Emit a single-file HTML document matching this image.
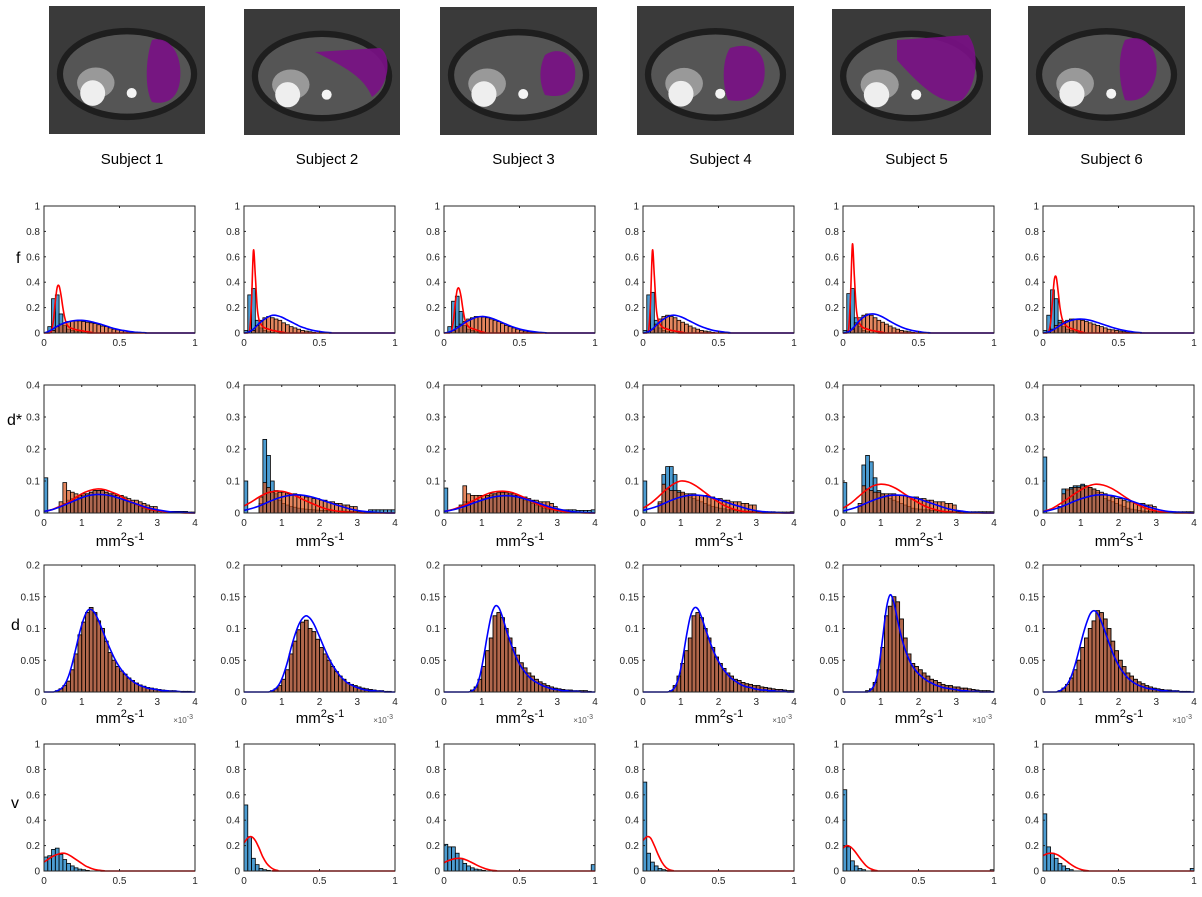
<!DOCTYPE html>
<html><head><meta charset="utf-8">
<style>
body{margin:0;background:#fff;}
svg{display:block;font-family:"Liberation Sans",sans-serif;}
</style></head>
<body>
<svg id="fig" width="1202" height="897" viewBox="0 0 1202 897"></svg>
<script>
// ---------- DATA ----------
const subjects = ["Subject 1","Subject 2","Subject 3","Subject 4","Subject 5","Subject 6"];
const rowLabels = ["f","d*","d","v"];
const fTicks = ["0","0.5","1"];
const fYTicks = ["0","0.2","0.4","0.6","0.8","1"];
const dsYTicks = ["0","0.1","0.2","0.3","0.4"];
const dYTicks = ["0","0.05","0.1","0.15","0.2"];
const dXTicks = ["0","1","2","3","4"];

// f row (bin 0.025); red curve step 0.0125, blue curve step 0.025
const fBlue = [
 [0,0.05,0.27,0.30,0.15,0.06,0.03,0.02,0.01,0.01,0.005],
 [0.02,0.30,0.35,0.10,0.04,0.02,0.01,0.005],
 [0,0.05,0.25,0.29,0.17,0.06,0.03,0.02,0.01],
 [0.02,0.30,0.32,0.10,0.04,0.02,0.01,0.005],
 [0.02,0.31,0.35,0.12,0.05,0.02,0.01],
 [0.02,0.14,0.34,0.27,0.10,0.05,0.03,0.02,0.01]];
const fOrange = [
 [0,0,0.02,0.05,0.07,0.08,0.09,0.095,0.095,0.095,0.09,0.085,0.08,0.075,0.065,0.055,0.05,0.04,0.03,0.025,0.02,0.015,0.01,0.008,0.005,0.003],
 [0,0,0.02,0.06,0.10,0.12,0.13,0.12,0.11,0.10,0.08,0.065,0.05,0.04,0.03,0.02,0.015,0.01,0.005],
 [0,0,0.02,0.05,0.07,0.09,0.11,0.12,0.13,0.13,0.125,0.12,0.11,0.10,0.09,0.075,0.06,0.05,0.04,0.03,0.022,0.015,0.01,0.007,0.005],
 [0,0,0.03,0.07,0.11,0.13,0.14,0.13,0.12,0.10,0.085,0.07,0.055,0.04,0.03,0.02,0.015,0.01,0.005],
 [0,0,0.03,0.08,0.12,0.14,0.15,0.14,0.12,0.10,0.085,0.07,0.055,0.04,0.03,0.02,0.015,0.01,0.005],
 [0,0,0.03,0.06,0.08,0.09,0.10,0.11,0.11,0.105,0.10,0.09,0.08,0.07,0.06,0.05,0.04,0.03,0.025,0.02,0.015,0.01,0.005]];
const fRed = [
 [0,0,0,0,0.02,0.10,0.25,0.36,0.37,0.30,0.20,0.12,0.07,0.05,0.04,0.035,0.03,0.025,0.022,0.02,0.018,0.015,0.012,0.01,0.008,0.005,0.003,0],
 [0,0,0,0.02,0.25,0.65,0.45,0.20,0.10,0.07,0.05,0.04,0.035,0.03,0.025,0.02,0.018,0.015,0.012,0.01,0.008,0.005,0.003,0],
 [0,0,0,0,0.02,0.10,0.24,0.34,0.35,0.29,0.19,0.11,0.07,0.05,0.04,0.035,0.03,0.025,0.02,0.015,0.01,0.006,0.003,0],
 [0,0,0,0.02,0.25,0.65,0.45,0.20,0.10,0.07,0.05,0.04,0.035,0.03,0.025,0.02,0.018,0.015,0.012,0.01,0.008,0.005,0.003,0],
 [0,0,0,0.03,0.30,0.70,0.45,0.20,0.10,0.07,0.05,0.04,0.035,0.03,0.025,0.02,0.018,0.015,0.012,0.01,0.008,0.005,0.003,0],
 [0,0,0,0.01,0.08,0.25,0.42,0.44,0.33,0.20,0.12,0.08,0.06,0.05,0.04,0.035,0.03,0.025,0.02,0.015,0.01,0.006,0.003,0]];
const fBlueCurve = [
 [0,0.01,0.025,0.045,0.06,0.075,0.085,0.092,0.097,0.1,0.1,0.097,0.092,0.085,0.078,0.07,0.06,0.05,0.04,0.032,0.025,0.02,0.015,0.01,0.007,0.005,0.003,0.002,0],
 [0,0.005,0.02,0.045,0.075,0.10,0.12,0.135,0.14,0.135,0.125,0.11,0.095,0.08,0.065,0.05,0.04,0.03,0.022,0.016,0.012,0.008,0.005,0.003,0],
 [0,0.005,0.015,0.03,0.05,0.07,0.09,0.105,0.118,0.127,0.13,0.128,0.122,0.112,0.1,0.088,0.075,0.062,0.05,0.04,0.031,0.024,0.018,0.013,0.009,0.006,0.004,0.002,0],
 [0,0.005,0.02,0.045,0.075,0.10,0.12,0.135,0.14,0.137,0.128,0.115,0.1,0.085,0.07,0.056,0.044,0.034,0.025,0.018,0.013,0.009,0.006,0.003,0],
 [0,0.005,0.02,0.05,0.085,0.115,0.135,0.148,0.15,0.145,0.133,0.118,0.1,0.083,0.067,0.053,0.04,0.03,0.022,0.016,0.011,0.007,0.004,0.002,0],
 [0,0.005,0.015,0.03,0.05,0.068,0.083,0.095,0.104,0.109,0.11,0.108,0.103,0.096,0.087,0.077,0.067,0.057,0.047,0.038,0.03,0.023,0.017,0.012,0.008,0.005,0.003,0]];

// d* row (bin 0.1 on 0..4); curves step 0.2
const dsBlue = [
 [0.11,0,0,0,0.02,0.03,0.04,0.045,0.05,0.05,0.055,0.06,0.065,0.07,0.07,0.07,0.065,0.06,0.055,0.05,0.045,0.04,0.035,0.03,0.025,0.02,0.015,0.01,0.008,0.006,0.005,0.005,0.005,0.005,0.005,0.005,0.005,0.005,0.003,0.003],
 [0.10,0,0,0,0.03,0.23,0.18,0.10,0.06,0.04,0.03,0.025,0.02,0.018,0.015,0.013,0.012,0.011,0.01,0.009,0.008,0.008,0.007,0.007,0.006,0.006,0.006,0.005,0.005,0.005,0.005,0.005,0.005,0.01,0.01,0.01,0.01,0.01,0.01,0.01],
 [0.078,0,0,0,0.01,0.035,0.035,0.035,0.035,0.04,0.045,0.05,0.055,0.06,0.065,0.065,0.065,0.06,0.055,0.05,0.045,0.04,0.035,0.03,0.025,0.02,0.015,0.012,0.01,0.01,0.01,0.01,0.01,0.01,0.01,0.008,0.008,0.008,0.008,0.01],
 [0.10,0,0,0,0.03,0.12,0.145,0.145,0.12,0.07,0.06,0.055,0.05,0.045,0.04,0.035,0.03,0.025,0.02,0.018,0.015,0.013,0.01,0.01,0.008,0.008,0.006,0.006,0.005,0.005,0.004,0.004,0.004,0.004,0.004,0.003,0.003,0.003,0.003,0.004],
 [0.095,0,0,0,0.02,0.15,0.18,0.16,0.11,0.07,0.06,0.05,0.045,0.04,0.035,0.03,0.025,0.02,0.015,0.013,0.012,0.01,0.01,0.008,0.008,0.006,0.006,0.005,0.005,0.004,0.004,0.004,0.004,0.004,0.004,0.004,0.004,0.004,0.004,0.004],
 [0.175,0,0,0,0.02,0.075,0.07,0.08,0.085,0.085,0.09,0.085,0.08,0.075,0.065,0.055,0.045,0.04,0.035,0.03,0.025,0.02,0.015,0.012,0.01,0.008,0.006,0.005,0.005,0.004,0.004,0.004,0.004,0.004,0.004,0.004,0.004,0.004,0.004,0.004]];
const dsOrange = [
 [0,0,0,0,0.035,0.095,0.07,0.065,0.06,0.055,0.06,0.06,0.065,0.07,0.07,0.07,0.065,0.06,0.06,0.055,0.055,0.05,0.045,0.04,0.04,0.035,0.03,0.025,0.02,0.02],
 [0,0,0,0,0.05,0.095,0.08,0.065,0.07,0.065,0.065,0.06,0.06,0.06,0.055,0.055,0.05,0.05,0.045,0.045,0.04,0.04,0.035,0.035,0.03,0.03,0.025,0.025,0.02,0.02],
 [0,0,0,0,0.025,0.085,0.06,0.055,0.055,0.055,0.055,0.055,0.06,0.06,0.065,0.065,0.065,0.06,0.06,0.055,0.05,0.05,0.045,0.04,0.04,0.035,0.035,0.035,0.03,0.02],
 [0,0,0,0,0.035,0.09,0.075,0.07,0.07,0.065,0.065,0.06,0.06,0.06,0.055,0.055,0.055,0.05,0.05,0.045,0.045,0.04,0.04,0.035,0.035,0.035,0.03,0.03,0.025,0.025],
 [0,0,0,0,0.03,0.085,0.075,0.07,0.065,0.065,0.06,0.06,0.06,0.06,0.055,0.055,0.055,0.05,0.05,0.05,0.045,0.045,0.04,0.04,0.035,0.035,0.035,0.03,0.03,0.025],
 [0,0,0,0,0.02,0.06,0.075,0.075,0.08,0.08,0.085,0.085,0.08,0.075,0.07,0.065,0.06,0.055,0.05,0.045,0.045,0.04,0.035,0.035,0.03,0.03,0.03,0.025,0.025,0.02]];
const dsRed = [
 [0.005,0.01,0.02,0.03,0.045,0.06,0.07,0.075,0.073,0.065,0.055,0.04,0.03,0.02,0.012,0.007,0.004,0.002,0.001,0,0],
 [0.022,0.035,0.05,0.062,0.068,0.068,0.062,0.052,0.04,0.03,0.02,0.012,0.007,0.004,0.002,0.001,0,0,0,0,0],
 [0.005,0.01,0.018,0.028,0.04,0.052,0.062,0.067,0.068,0.064,0.055,0.044,0.032,0.022,0.014,0.008,0.004,0.002,0.001,0,0],
 [0.015,0.03,0.05,0.072,0.09,0.1,0.097,0.085,0.068,0.05,0.034,0.021,0.012,0.006,0.003,0.001,0,0,0,0,0],
 [0.015,0.03,0.05,0.07,0.085,0.09,0.087,0.077,0.062,0.046,0.032,0.02,0.012,0.006,0.003,0.001,0,0,0,0,0],
 [0.005,0.012,0.025,0.04,0.057,0.072,0.084,0.09,0.087,0.078,0.064,0.048,0.033,0.021,0.012,0.006,0.003,0.001,0,0,0]];
const dsBlueCurve = [
 [0.005,0.01,0.018,0.028,0.038,0.048,0.055,0.058,0.057,0.053,0.046,0.038,0.03,0.022,0.015,0.01,0.006,0.003,0.002,0.001,0],
 [0.008,0.014,0.022,0.032,0.042,0.05,0.055,0.057,0.055,0.05,0.043,0.035,0.027,0.02,0.013,0.008,0.005,0.003,0.001,0,0],
 [0.005,0.009,0.015,0.023,0.032,0.04,0.047,0.052,0.054,0.053,0.049,0.042,0.035,0.027,0.019,0.013,0.008,0.004,0.002,0.001,0],
 [0.008,0.014,0.022,0.032,0.042,0.05,0.055,0.056,0.054,0.049,0.042,0.034,0.026,0.019,0.012,0.007,0.004,0.002,0.001,0,0],
 [0.006,0.012,0.02,0.03,0.04,0.048,0.054,0.056,0.055,0.05,0.044,0.036,0.028,0.02,0.013,0.008,0.005,0.002,0.001,0,0],
 [0.004,0.009,0.016,0.025,0.035,0.044,0.051,0.056,0.057,0.055,0.05,0.043,0.035,0.027,0.019,0.012,0.007,0.004,0.002,0.001,0]];

// d row (bin 0.1e-3); curve sampled at bin centres
const dHist = [
 [0,0,0,0.002,0.005,0.01,0.017,0.035,0.06,0.09,0.11,0.125,0.133,0.125,0.112,0.10,0.08,0.062,0.05,0.04,0.033,0.028,0.022,0.018,0.014,0.011,0.009,0.007,0.006,0.005,0.004,0.003,0.002,0.002,0.002,0.001,0.001,0.001,0.001,0],
 [0,0,0,0,0,0,0,0.002,0.005,0.01,0.02,0.035,0.06,0.08,0.098,0.11,0.113,0.10,0.095,0.083,0.07,0.06,0.05,0.04,0.032,0.025,0.02,0.015,0.012,0.01,0.008,0.006,0.005,0.004,0.003,0.002,0.002,0.001,0.001,0],
 [0,0,0,0,0,0,0,0.003,0.008,0.02,0.04,0.065,0.085,0.12,0.125,0.117,0.1,0.085,0.07,0.058,0.046,0.038,0.03,0.025,0.02,0.016,0.013,0.01,0.008,0.006,0.005,0.004,0.003,0.003,0.002,0.002,0.002,0.002,0.001,0],
 [0,0,0,0,0,0,0,0.002,0.01,0.025,0.045,0.065,0.085,0.12,0.125,0.117,0.1,0.085,0.07,0.055,0.045,0.037,0.03,0.025,0.02,0.018,0.015,0.013,0.012,0.01,0.01,0.008,0.007,0.006,0.005,0.004,0.004,0.003,0.002,0.002],
 [0,0,0,0,0,0,0.002,0.005,0.015,0.035,0.07,0.12,0.135,0.15,0.142,0.115,0.085,0.06,0.045,0.04,0.035,0.03,0.025,0.02,0.018,0.015,0.012,0.01,0.01,0.008,0.008,0.006,0.006,0.005,0.004,0.003,0.002,0.002,0.002,0.001],
 [0,0,0,0,0.002,0.006,0.012,0.022,0.035,0.05,0.07,0.085,0.1,0.112,0.128,0.125,0.115,0.1,0.08,0.065,0.05,0.04,0.03,0.025,0.02,0.016,0.013,0.01,0.008,0.006,0.005,0.004,0.003,0.003,0.002,0.002,0.001,0.001,0.001,0]];
const dCurve = [
 [0,0,0,0.002,0.005,0.012,0.025,0.045,0.07,0.095,0.115,0.128,0.13,0.124,0.112,0.097,0.082,0.068,0.055,0.044,0.035,0.028,0.022,0.017,0.013,0.01,0.008,0.006,0.005,0.004,0.003,0.002,0.002,0.001,0.001,0.001,0,0,0,0],
 [0,0,0,0,0,0,0,0.002,0.006,0.014,0.028,0.047,0.07,0.09,0.106,0.116,0.12,0.116,0.107,0.094,0.08,0.066,0.053,0.042,0.033,0.025,0.019,0.014,0.011,0.008,0.006,0.004,0.003,0.002,0.002,0.001,0.001,0,0,0],
 [0,0,0,0,0,0,0,0.002,0.008,0.025,0.055,0.09,0.12,0.135,0.133,0.118,0.098,0.08,0.064,0.05,0.039,0.031,0.024,0.019,0.015,0.012,0.009,0.007,0.005,0.004,0.003,0.002,0.002,0.001,0.001,0.001,0,0,0,0],
 [0,0,0,0,0,0,0,0.002,0.008,0.024,0.052,0.088,0.118,0.132,0.131,0.118,0.1,0.083,0.067,0.054,0.043,0.034,0.027,0.021,0.017,0.013,0.01,0.008,0.007,0.005,0.004,0.003,0.003,0.002,0.002,0.001,0.001,0.001,0,0],
 [0,0,0,0,0,0,0,0.004,0.014,0.04,0.085,0.132,0.153,0.14,0.112,0.086,0.066,0.051,0.04,0.032,0.026,0.021,0.017,0.014,0.011,0.009,0.007,0.006,0.005,0.004,0.003,0.002,0.002,0.001,0.001,0.001,0,0,0,0],
 [0,0,0,0,0.002,0.006,0.013,0.025,0.043,0.065,0.088,0.108,0.123,0.128,0.123,0.11,0.094,0.077,0.061,0.048,0.037,0.029,0.022,0.017,0.013,0.01,0.008,0.006,0.005,0.004,0.003,0.002,0.002,0.001,0.001,0.001,0,0,0,0]];

// v row (bin 0.025); red curve step 0.025
const vBlue = [
 [0.11,0.12,0.17,0.18,0.13,0.09,0.06,0.04,0.025,0.015,0.01,0.005],
 [0.52,0.27,0.10,0.05,0.02,0.01,0.005],
 [0.21,0.19,0.19,0.14,0.10,0.06,0.04,0.025,0.015,0.01,0.005,0,0,0,0,0,0,0,0,0,0,0,0,0,0,0,0,0,0,0,0,0,0,0,0,0,0,0,0,0.05],
 [0.70,0.14,0.07,0.04,0.02,0.01,0.005],
 [0.64,0.19,0.08,0.04,0.02,0.01,0,0,0,0,0,0,0,0,0,0,0,0,0,0,0,0,0,0,0,0,0,0,0,0,0,0,0,0,0,0,0,0,0,0.01],
 [0.45,0.19,0.14,0.10,0.06,0.04,0.02,0.01,0,0,0,0,0,0,0,0,0,0,0,0,0,0,0,0,0,0,0,0,0,0,0,0,0,0,0,0,0,0,0,0.02]];
const vRed = [
 [0.07,0.09,0.11,0.125,0.135,0.14,0.135,0.12,0.10,0.08,0.06,0.04,0.027,0.016,0.009,0.005,0.002,0],
 [0.22,0.26,0.27,0.24,0.18,0.11,0.06,0.03,0.012,0.004,0],
 [0.065,0.08,0.09,0.098,0.10,0.096,0.086,0.072,0.057,0.042,0.029,0.018,0.01,0.005,0.002,0],
 [0.24,0.27,0.26,0.20,0.13,0.07,0.03,0.01,0.003,0],
 [0.18,0.20,0.19,0.16,0.12,0.08,0.045,0.022,0.01,0.003,0],
 [0.12,0.135,0.14,0.137,0.125,0.105,0.083,0.06,0.04,0.024,0.013,0.006,0.002,0]];

// ---------- DRAW ----------
const NS = "http://www.w3.org/2000/svg";
const svg = document.getElementById("fig");
function el(tag, attrs, parent){
  const e = document.createElementNS(NS, tag);
  for (const k in attrs) e.setAttribute(k, attrs[k]);
  (parent||svg).appendChild(e);
  return e;
}
const colX = [44,244,444,643,843,1043];
const AW = 151;
const rows = [
  {top:206,bot:333,xmax:1,ymax:1,yt:fYTicks,xt:fTicks},
  {top:385,bot:513,xmax:4,ymax:0.4,yt:dsYTicks,xt:dXTicks},
  {top:565,bot:692,xmax:4,ymax:0.2,yt:dYTicks,xt:dXTicks},
  {top:744,bot:871,xmax:1,ymax:1,yt:fYTicks,xt:fTicks}];
const BLUE="rgb(0,114,189)", ORANGE="rgb(217,83,25)";

// images
const imgBox = [[49,6,156,128],[244,9,156,126],[440,7,157,128],[637,6,157,129],[832,9,159,126],[1028,6,157,129]];
const purple = [
 "M152,40 C170,35 183,55 180,80 C178,100 165,105 152,102 C145,90 145,60 152,40Z",
 "M315,52 L380,48 C392,55 390,85 372,97 C365,80 352,70 315,52Z",
 "M545,55 C560,45 578,55 575,78 C573,95 560,98 545,95 C538,80 540,65 545,55Z",
 "M730,48 C755,40 768,55 764,80 C760,98 745,103 728,100 C722,85 722,60 730,48Z",
 "M897,40 L968,35 C980,50 978,85 962,100 C945,105 928,95 897,60Z",
 "M1125,40 C1145,32 1160,50 1156,75 C1152,95 1138,103 1125,100 C1118,80 1118,55 1125,40Z"];
imgBox.forEach((b,i)=>{
  const g = el("g",{});
  
  
  el("rect",{x:b[0],y:b[1],width:b[2],height:b[3],fill:"#3a3a3a"},g);
  el("ellipse",{cx:b[0]+b[2]/2,cy:b[1]+b[3]/2+4,rx:b[2]*0.45,ry:b[3]*0.36,fill:"#1e1e1e"},g);
  el("ellipse",{cx:b[0]+b[2]/2,cy:b[1]+b[3]/2+4,rx:b[2]*0.41,ry:b[3]*0.31,fill:"#555"},g);
  el("ellipse",{cx:b[0]+b[2]*0.3,cy:b[1]+b[3]*0.6,rx:b[2]*0.12,ry:b[3]*0.12,fill:"#999"},g);
  el("ellipse",{cx:b[0]+b[2]*0.28,cy:b[1]+b[3]*0.68,rx:b[2]*0.08,ry:b[3]*0.1,fill:"#eee"},g);
  el("circle",{cx:b[0]+b[2]*0.53,cy:b[1]+b[3]*0.68,r:5,fill:"#f4f4f4"},g);
  el("path",{d:purple[i],fill:"#7a0f86",opacity:0.9},g);
  const t = el("text",{x:b[0]+b[2]/2+5,y:164,"text-anchor":"middle","font-size":"15",fill:"#000"});
  t.textContent = subjects[i];
  
  
});

function drawBars(g, vals, binW, sx, sy, color, op){
  vals.forEach((v,k)=>{
    if (v<=0) return;
    const x0 = sx(k*binW), x1 = sx((k+1)*binW);
    const r = el("rect",{x:x0,y:sy(v),width:x1-x0,height:sy(0)-sy(v),fill:color,"fill-opacity":op,stroke:"#000","stroke-width":0.8},g);
    
    
  });
}
function drawCurve(g, vals, step, xmax, sx, sy, color, name, off){
  off = off||0;
  let pts = vals.map((v,k)=>[sx(Math.min(xmax,k*step+off)), sy(v)]);
  if (off>0) pts.unshift([sx(0), sy(vals[0])]);
  const lastX = (vals.length-1)*step+off;
  if (lastX < xmax) pts.push([sx(xmax), sy(0)]);
  let d = "M"+pts[0][0]+","+pts[0][1];
  for (let i=0;i<pts.length-1;i++){
    const p0=pts[Math.max(0,i-1)],p1=pts[i],p2=pts[i+1],p3=pts[Math.min(pts.length-1,i+2)];
    const c1=[p1[0]+(p2[0]-p0[0])/6, Math.min(sy(0),p1[1]+(p2[1]-p0[1])/6)];
    const c2=[p2[0]-(p3[0]-p1[0])/6, Math.min(sy(0),p2[1]-(p3[1]-p1[1])/6)];
    d += " C"+c1[0]+","+c1[1]+" "+c2[0]+","+c2[1]+" "+p2[0]+","+p2[1];
  }
  const p = el("path",{d:d,fill:"none",stroke:color,"stroke-width":1.6},g);
  
  
}

rows.forEach((R,ri)=>{
  colX.forEach((x0,ci)=>{
    const g = el("g",{});
    
    
    const sx = v => x0 + v/R.xmax*AW;
    const sy = v => R.bot - v/R.ymax*(R.bot-R.top);
    el("rect",{x:x0,y:R.top,width:AW,height:R.bot-R.top,fill:"#fff"},g);
    if (ri===0){
      drawBars(g,fBlue[ci],0.025,sx,sy,BLUE,0.7);
      drawBars(g,fOrange[ci],0.025,sx,sy,ORANGE,0.7);
      drawCurve(g,fRed[ci],0.0125,1,sx,sy,"#ff0000","red-fit-curve");
      drawCurve(g,fBlueCurve[ci],0.025,1,sx,sy,"#0000ff","blue-fit-curve");
    } else if (ri===1){
      drawBars(g,dsBlue[ci],0.1,sx,sy,BLUE,0.7);
      drawBars(g,dsOrange[ci],0.1,sx,sy,ORANGE,0.7);
      drawCurve(g,dsRed[ci],0.2,4,sx,sy,"#ff0000","red-fit-curve");
      drawCurve(g,dsBlueCurve[ci],0.2,4,sx,sy,"#0000ff","blue-fit-curve");
    } else if (ri===2){
      drawBars(g,dHist[ci],0.1,sx,sy,BLUE,0.72);
      drawBars(g,dHist[ci],0.1,sx,sy,ORANGE,0.72);
      drawCurve(g,dCurve[ci],0.1,4,sx,sy,"#0000ff","blue-fit-curve",0.05);
    } else {
      drawBars(g,vBlue[ci],0.025,sx,sy,BLUE,0.7);
      drawCurve(g,vRed[ci],0.025,1,sx,sy,"#ff0000","red-fit-curve");
    }
    el("rect",{x:x0,y:R.top,width:AW,height:R.bot-R.top,fill:"none",stroke:"#262626","stroke-width":1},g);
    R.yt.forEach((t,k)=>{
      const y = sy(k*R.ymax/(R.yt.length-1));
      el("line",{x1:x0,x2:x0+2,y1:y,y2:y,stroke:"#262626"},g);
      el("line",{x1:x0+AW,x2:x0+AW-2,y1:y,y2:y,stroke:"#262626"},g);
      const tx = el("text",{x:x0-4,y:y+3.5,"text-anchor":"end","font-size":"10",fill:"#262626"},g);
      tx.textContent = t;
      
      
    });
    R.xt.forEach((t,k)=>{
      const x = sx(k*R.xmax/(R.xt.length-1));
      el("line",{x1:x,x2:x,y1:R.bot,y2:R.bot-2,stroke:"#262626"},g);
      el("line",{x1:x,x2:x,y1:R.top,y2:R.top+2,stroke:"#262626"},g);
      const tx = el("text",{x:x,y:R.bot+13,"text-anchor":"middle","font-size":"10",fill:"#262626"},g);
      tx.textContent = t;
      
      
    });
    if (ri===1 || ri===2){
      const u = el("text",{x:x0+76,y:R.bot+(ri===1?33:31),"text-anchor":"middle","font-size":"15",fill:"#000"},g);
      u.innerHTML = 'mm<tspan dy="-6" font-size="11">2</tspan><tspan dy="6">s</tspan><tspan dy="-6" font-size="11">-1</tspan>';
      
      
    }
    if (ri===2){
      const e = el("text",{x:x0+AW-2,y:R.bot+31,"text-anchor":"end","font-size":"8",fill:"#555"},g);
      e.innerHTML = '×10<tspan dy="-4" font-size="7">-3</tspan>';
      
      
    }
  });
  const lx = [16,7,11,11][ri], ly = [263,425,630,808][ri];
  const lab = el("text",{x:lx,y:ly,"font-size":"16",fill:"#000"});
  lab.textContent = rowLabels[ri];
  
  
});
</script>
</body></html>
